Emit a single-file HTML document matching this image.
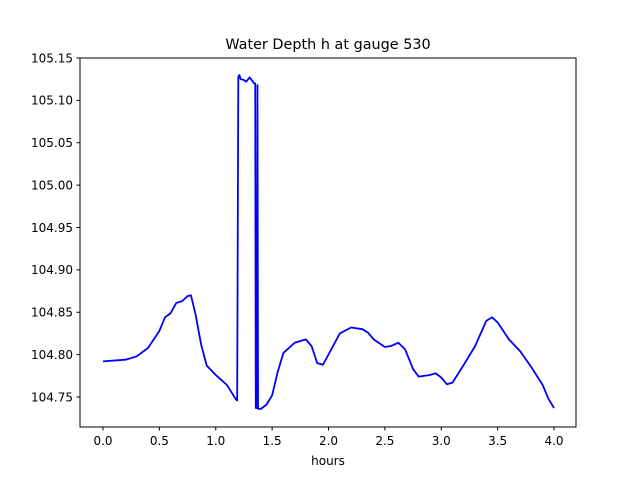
<!DOCTYPE html>
<html><head><meta charset="utf-8"><style>
body{margin:0;background:#fff;}
svg text{font-family:"DejaVu Sans","Liberation Sans",sans-serif;fill:#000;}
</style></head><body>
<svg id="chart" width="640" height="480" xmlns="http://www.w3.org/2000/svg">
<rect width="640" height="480" fill="#fff"/>
<text x="328" y="49" font-size="14.4" text-anchor="middle">Water Depth h at gauge 530</text>
<g id="plot"></g>
<rect x="80" y="58" width="496" height="369" fill="none" stroke="#000" stroke-width="1"/>
<text x="328" y="465" font-size="12" text-anchor="middle">hours</text>
</svg>
<script>
const xs=[0.0,0.2,0.3,0.4,0.5,0.55,0.6,0.65,0.7,0.75,0.78,0.82,0.87,0.92,1.0,1.1,1.18,1.19,1.2,1.21,1.22,1.25,1.27,1.3,1.33,1.34,1.35,1.355,1.365,1.37,1.375,1.4,1.45,1.5,1.55,1.6,1.7,1.8,1.85,1.9,1.95,2.0,2.1,2.2,2.3,2.35,2.4,2.5,2.55,2.62,2.68,2.75,2.8,2.9,2.95,3.0,3.05,3.1,3.2,3.3,3.4,3.45,3.5,3.6,3.7,3.8,3.9,3.95,4.0];
const ys=[104.792,104.794,104.798,104.808,104.828,104.844,104.849,104.861,104.863,104.869,104.870,104.848,104.812,104.787,104.776,104.764,104.747,104.746,105.128,105.130,105.125,105.124,105.122,105.127,105.122,105.120,105.120,104.737,104.737,105.118,104.736,104.736,104.741,104.752,104.780,104.802,104.814,104.818,104.810,104.790,104.788,104.800,104.825,104.832,104.830,104.826,104.818,104.809,104.810,104.814,104.806,104.783,104.774,104.776,104.778,104.773,104.765,104.767,104.788,104.810,104.840,104.844,104.838,104.818,104.804,104.785,104.764,104.748,104.737];
const xTicks=[0.0,0.5,1.0,1.5,2.0,2.5,3.0,3.5,4.0];
const yTicks=[104.75,104.80,104.85,104.90,104.95,105.00,105.05,105.10,105.15];
const X0=-0.204,X1=4.195,Y0=104.7146,Y1=105.1500;
function sx(v){return 80+(v-X0)/(X1-X0)*496;}
function sy(v){return 427-(v-Y0)/(Y1-Y0)*369;}
const NS="http://www.w3.org/2000/svg",g=document.getElementById('plot');
function mk(t,a){const e=document.createElementNS(NS,t);for(const k in a)e.setAttribute(k,a[k]);g.appendChild(e);return e;}
xTicks.forEach(t=>{const x=sx(t);
 const l=mk('line',{x1:x,x2:x,y1:427,y2:430.5,stroke:'#000'});
 
 
 const tx=mk('text',{x:x,y:445,'font-size':12,'text-anchor':'middle'});tx.textContent=t.toFixed(1);
 
 
});
yTicks.forEach(t=>{const y=sy(t);
 const l=mk('line',{x1:76.5,x2:80,y1:y,y2:y,stroke:'#000'});
 
 
 const tx=mk('text',{x:73,y:y+4.3,'font-size':12,'text-anchor':'end'});tx.textContent=t.toFixed(2);
 
 
});
const p=mk('polyline',{points:xs.map((x,i)=>sx(x)+','+sy(ys[i])).join(' '),fill:'none',stroke:'#0000ff','stroke-width':1.8,'stroke-linejoin':'round'});


</script>
</body></html>
